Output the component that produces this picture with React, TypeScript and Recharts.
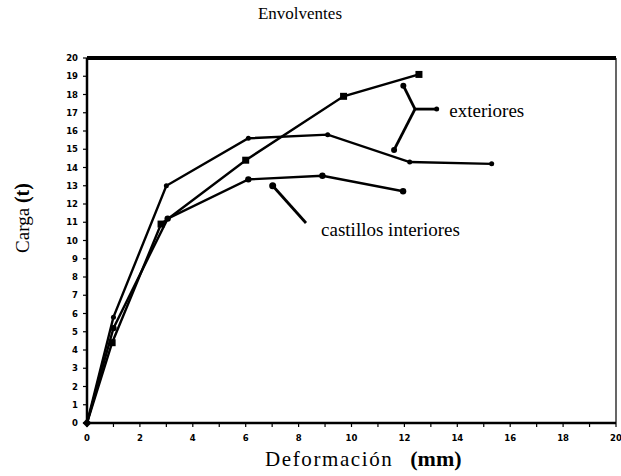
import React from 'react';
import { LineChart, Line, XAxis, YAxis, ReferenceLine, ReferenceDot } from 'recharts';

const xTicks = [0, 1, 2, 3, 4, 5, 6, 7, 8, 9, 10, 11, 12, 13, 14, 15, 16, 17, 18, 19, 20];
const yTicks = [0, 1, 2, 3, 4, 5, 6, 7, 8, 9, 10, 11, 12, 13, 14, 15, 16, 17, 18, 19, 20];

// exteriores (square markers)
const exterioresA = [
  { x: 0, y: 0 },
  { x: 0.95, y: 4.4 },
  { x: 2.8, y: 10.9 },
  { x: 6.0, y: 14.4 },
  { x: 9.7, y: 17.9 },
  { x: 12.55, y: 19.1 },
];
// exteriores (small markers)
const exterioresB = [
  { x: 0, y: 0 },
  { x: 1.0, y: 5.8 },
  { x: 3.0, y: 13.0 },
  { x: 6.1, y: 15.6 },
  { x: 9.1, y: 15.8 },
  { x: 12.2, y: 14.3 },
  { x: 15.3, y: 14.2 },
];
// castillos interiores
const interiores = [
  { x: 0, y: 0 },
  { x: 1.0, y: 5.2 },
  { x: 3.05, y: 11.2 },
  { x: 6.1, y: 13.35 },
  { x: 8.9, y: 13.55 },
  { x: 11.95, y: 12.7 },
];

// callout geometry (data units)
const bracketTop = { x: 11.96, y: 18.48 };
const bracketJoin = { x: 12.4, y: 17.2 };
const bracketRight = { x: 13.22, y: 17.2 };
const bracketBottom = { x: 11.61, y: 14.96 };
const exterioresText = { x: 13.7, y: 17.1, text: 'exteriores' };
const interiorStart = { x: 7.02, y: 13.0 };
const interiorEnd = { x: 8.28, y: 10.96 };
const interioresText = { x: 8.85, y: 10.6, text: 'castillos interiores' };

const serif = '"Liberation Serif", "DejaVu Serif", serif';

const SquareDot = (props: any) => {
  const { cx, cy, index } = props;
  if (cx == null || cy == null || index === 0) return <g key={`s${index}`} />;
  return <rect key={`s${index}`} x={cx - 3.5} y={cy - 3.5} width={7} height={7} fill="#000" />;
};
const SmallDot = (props: any) => {
  const { cx, cy, index } = props;
  if (cx == null || cy == null || index === 0) return <g key={`d${index}`} />;
  return <circle key={`d${index}`} cx={cx} cy={cy} r={2.5} fill="#000" />;
};
const RoundDot = (props: any) => {
  const { cx, cy, index } = props;
  if (cx == null || cy == null || index === 0) return <g key={`r${index}`} />;
  return <circle key={`r${index}`} cx={cx} cy={cy} r={3.2} fill="#000" />;
};

const XTick = (props: any) => {
  const { x, y, payload } = props;
  if (payload.value % 2 !== 0) return <g />;
  return (
    <text x={x} y={y + 12} textAnchor="middle" fontSize={8.5} fontWeight={900}
      fontFamily='"DejaVu Sans", sans-serif' fill="#000">{payload.value}</text>
  );
};
const YTick = (props: any) => {
  const { x, y, payload } = props;
  return (
    <text x={x - 3} y={y + 3} textAnchor="end" fontSize={8.5} fontWeight={900}
      fontFamily='"DejaVu Sans", sans-serif' fill="#000">{payload.value}</text>
  );
};

const textLabel = (txt: string) => (props: any) => {
  const vb = props.viewBox || {};
  return (
    <text x={vb.x} y={vb.y + 6} fontSize={19} fontFamily={serif} fill="#000">{txt}</text>
  );
};

const Diamond = (props: any) => {
  const { cx, cy } = props;
  return <path d={`M${cx},${cy - 4.5} L${cx + 4.5},${cy} L${cx},${cy + 4.5} L${cx - 4.5},${cy} Z`} fill="#000" />;
};

export default function App() {
  return (
    <div style={{ position: 'absolute', left: 0, top: 0, width: 621, height: 476, background: '#fff' }}>
      <div style={{ position: 'absolute', left: 0, width: 600, top: 4, textAlign: 'center', fontFamily: serif, fontSize: 17 }}>
        Envolventes
      </div>
      <div style={{ position: 'absolute', left: 22, top: 218, transform: 'translate(-50%, -50%) rotate(-90deg)', whiteSpace: 'nowrap', fontFamily: serif, fontSize: 19 }}>
        Carga <b style={{ fontSize: 20 }}>(t)</b>
      </div>
      <div style={{ position: 'absolute', left: 265, top: 446, whiteSpace: 'nowrap', fontFamily: serif, fontSize: 21, letterSpacing: 1.6 }}>
        Deformación <b style={{ fontSize: 22, letterSpacing: 0, marginLeft: 10 }}>(mm)</b>
      </div>
      <LineChart width={621} height={476} margin={{ top: 58, right: 5, bottom: 0, left: 0 }}>
        <XAxis dataKey="x" type="number" domain={[0, 20]} ticks={xTicks} interval={0}
          allowDataOverflow height={53} tickSize={4} stroke="#000" strokeWidth={2.5}
          tickLine={{ stroke: '#000', strokeWidth: 1.2 }} tick={<XTick />} />
        <YAxis type="number" domain={[0, 20]} ticks={yTicks} interval={0}
          allowDataOverflow width={87} tickSize={4} stroke="#000" strokeWidth={2.5}
          tickLine={{ stroke: '#000', strokeWidth: 1.2 }} tick={<YTick />} />
        <ReferenceLine y={20} stroke="#000" strokeWidth={4} />
        <ReferenceLine x={20} stroke="#000" strokeWidth={1.2} />
        <Line data={exterioresA} dataKey="y" stroke="#000" strokeWidth={2.4} dot={<SquareDot />} isAnimationActive={false} />
        <Line data={exterioresB} dataKey="y" stroke="#000" strokeWidth={2.4} dot={<SmallDot />} isAnimationActive={false} />
        <Line data={interiores} dataKey="y" stroke="#000" strokeWidth={2.4} dot={<RoundDot />} isAnimationActive={false} />
        <ReferenceLine segment={[bracketTop, bracketJoin]} stroke="#000" strokeWidth={2.8} />
        <ReferenceLine segment={[bracketJoin, bracketRight]} stroke="#000" strokeWidth={2.8} />
        <ReferenceLine segment={[bracketJoin, bracketBottom]} stroke="#000" strokeWidth={2.8} />
        <ReferenceLine segment={[interiorStart, interiorEnd]} stroke="#000" strokeWidth={2.8} />
        <ReferenceDot x={bracketTop.x} y={bracketTop.y} r={3} fill="#000" stroke="none" />
        <ReferenceDot x={bracketBottom.x} y={bracketBottom.y} r={3} fill="#000" stroke="none" />
        <ReferenceDot x={bracketRight.x} y={bracketRight.y} r={2.5} fill="#000" stroke="none" />
        <ReferenceDot x={interiorStart.x} y={interiorStart.y} r={3.5} fill="#000" stroke="none" />
        <ReferenceDot x={0} y={0} r={4} shape={<Diamond />} />
        <ReferenceDot x={exterioresText.x} y={exterioresText.y} r={0} fill="none" stroke="none" label={textLabel(exterioresText.text)} />
        <ReferenceDot x={interioresText.x} y={interioresText.y} r={0} fill="none" stroke="none" label={textLabel(interioresText.text)} />
      </LineChart>
    </div>
  );
}
